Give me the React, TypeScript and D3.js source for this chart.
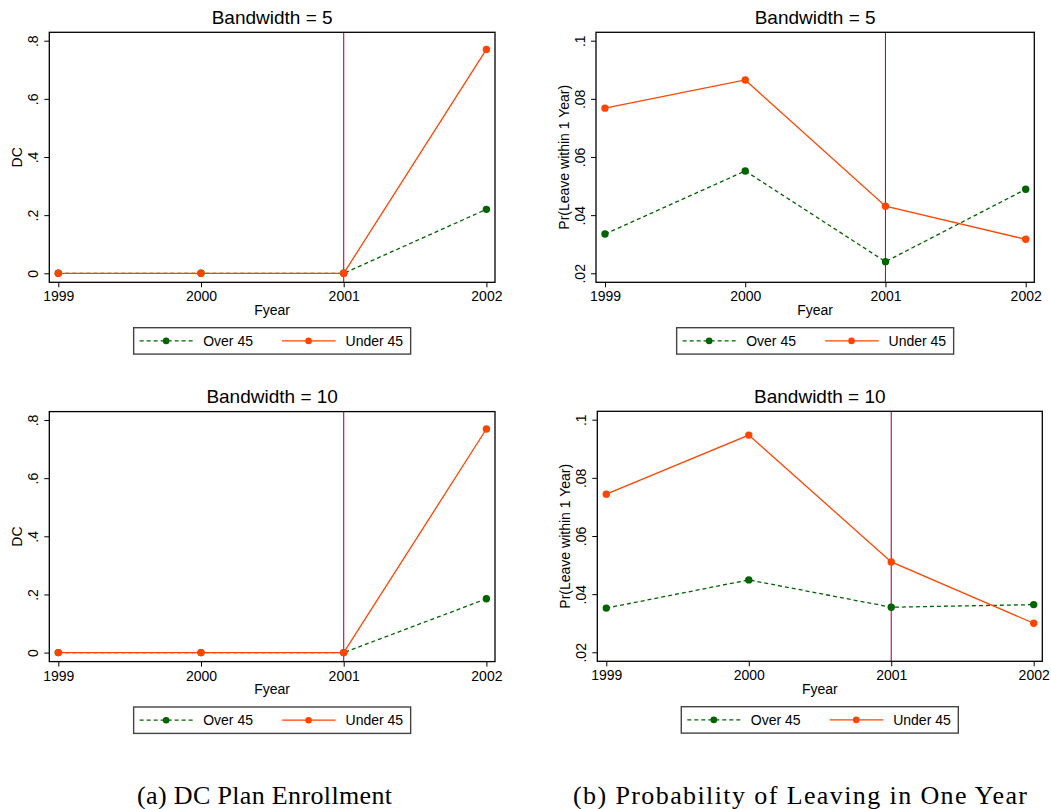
import React, { useEffect, useRef } from 'react';
import * as d3 from 'd3';

// years on the x axis, and the cutoff year marked with a vertical line
const years = [1999, 2000, 2001, 2002];
const cutoffYear = 2001;

// (a) DC plan enrollment
const dcOver5 = [0, 0, 0, 0.22];
const dcUnder5 = [0, 0, 0, 0.77];
const dcOver10 = [0, 0, 0, 0.185];
const dcUnder10 = [0, 0, 0, 0.769];

// (b) probability of leaving within one year
const leaveOver5 = [0.0335, 0.0552, 0.024, 0.0489];
const leaveUnder5 = [0.0768, 0.0865, 0.0431, 0.0317];
const leaveOver10 = [0.0352, 0.0449, 0.0355, 0.0364];
const leaveUnder10 = [0.0744, 0.0947, 0.0511, 0.03];

const dcTicks = [0, 0.2, 0.4, 0.6, 0.8];
const dcTickLabels = ['0', '.2', '.4', '.6', '.8'];
const leaveTicks = [0.02, 0.04, 0.06, 0.08, 0.1];
const leaveTickLabels = ['.02', '.04', '.06', '.08', '.1'];

const seriesNames = ['Over 45', 'Under 45'];

const GREEN = '#006400';
const ORANGE = '#ff4500';
const CUTOFF = '#b0103c';
const FONT = '"Liberation Sans", Arial, Helvetica, sans-serif';

function App() {
  const ref = useRef(null);

  useEffect(() => {
    const svg = d3.select(ref.current);
    svg.selectAll('*').remove();

    const panels = [
      { title: 'Bandwidth = 5', ylab: 'DC', over: dcOver5, under: dcUnder5, ticks: dcTicks, labels: dcTickLabels, x: 49.3, y: 32.3, w: 445.7, h: 250 },
      { title: 'Bandwidth = 10', ylab: 'DC', over: dcOver10, under: dcUnder10, ticks: dcTicks, labels: dcTickLabels, x: 49.3, y: 411.6, w: 445.7, h: 250 },
      { title: 'Bandwidth = 5', ylab: 'Pr(Leave within 1 Year)', over: leaveOver5, under: leaveUnder5, ticks: leaveTicks, labels: leaveTickLabels, x: 596, y: 32.3, w: 438.3, h: 250 },
      { title: 'Bandwidth = 10', ylab: 'Pr(Leave within 1 Year)', over: leaveOver10, under: leaveUnder10, ticks: leaveTicks, labels: leaveTickLabels, x: 597.3, y: 411.3, w: 445, h: 250 },
    ];

    panels.forEach((p) => {
      const g = svg.append('g').attr('transform', `translate(${p.x},${p.y})`);

      const x = d3.scaleLinear()
        .domain([years[0], years[years.length - 1]])
        .range([9, p.w - 8.6]);
      const y = d3.scaleLinear()
        .domain([p.ticks[0], p.ticks[p.ticks.length - 1]])
        .range([p.h - 9, 8.4]);

      // title
      g.append('text')
        .attr('x', p.w / 2)
        .attr('y', -8.3)
        .attr('text-anchor', 'middle')
        .attr('font-family', FONT)
        .attr('font-size', 19)
        .text(p.title);

      // y axis
      const yAxis = g.append('g')
        .call(d3.axisLeft(y).tickValues(p.ticks).tickSize(5).tickSizeOuter(0)
          .tickFormat((d, i) => p.labels[i]));
      yAxis.select('.domain').remove();
      yAxis.selectAll('line').attr('stroke', '#000');
      yAxis.selectAll('text')
        .attr('transform', 'rotate(-90)')
        .attr('x', 0)
        .attr('y', -11)
        .attr('dy', null)
        .attr('text-anchor', 'middle')
        .attr('font-family', FONT)
        .attr('font-size', 14)
        .attr('fill', '#000');

      // x axis
      const xAxis = g.append('g')
        .attr('transform', `translate(0,${p.h})`)
        .call(d3.axisBottom(x).tickValues(years).tickSize(5).tickSizeOuter(0)
          .tickFormat(d3.format('d')));
      xAxis.select('.domain').remove();
      xAxis.selectAll('line').attr('stroke', '#000');
      xAxis.selectAll('text')
        .attr('y', 9)
        .attr('font-family', FONT)
        .attr('font-size', 14)
        .attr('fill', '#000');

      // axis titles
      g.append('text')
        .attr('x', p.w / 2)
        .attr('y', p.h + 32.7)
        .attr('text-anchor', 'middle')
        .attr('font-family', FONT)
        .attr('font-size', 14)
        .text('Fyear');
      g.append('text')
        .attr('transform', `translate(-27,${p.h / 2}) rotate(-90)`)
        .attr('text-anchor', 'middle')
        .attr('font-family', FONT)
        .attr('font-size', 14)
        .text(p.ylab);

      // cutoff line
      g.append('line')
        .attr('x1', x(cutoffYear)).attr('x2', x(cutoffYear))
        .attr('y1', 0).attr('y2', p.h)
        .attr('stroke', CUTOFF)
        .attr('stroke-width', 1.1);

      const line = d3.line().x((d, i) => x(years[i])).y((d) => y(d));

      // over 45 (dashed green), then under 45 on top
      const series = [
        { vals: p.over, color: GREEN, dash: '4,3' },
        { vals: p.under, color: ORANGE, dash: null },
      ];
      series.forEach((s) => {
        g.append('path')
          .datum(s.vals)
          .attr('d', line)
          .attr('fill', 'none')
          .attr('stroke', s.color)
          .attr('stroke-width', 1.3)
          .attr('stroke-dasharray', s.dash);
        g.selectAll(null)
          .data(s.vals)
          .enter()
          .append('circle')
          .attr('cx', (d, i) => x(years[i]))
          .attr('cy', (d) => y(d))
          .attr('r', 3.7)
          .attr('fill', s.color);
      });

      // frame
      g.append('rect')
        .attr('width', p.w)
        .attr('height', p.h)
        .attr('fill', 'none')
        .attr('stroke', '#000')
        .attr('stroke-width', 1.3);

      // legend
      const lw = 277, lh = 26.4;
      const lg = g.append('g').attr('transform', `translate(${p.w / 2 - lw / 2},${p.h + 45.4})`);
      lg.append('rect')
        .attr('width', lw)
        .attr('height', lh)
        .attr('fill', '#fff')
        .attr('stroke', '#444')
        .attr('stroke-width', 1.4);
      const items = [
        { name: seriesNames[0], color: GREEN, dash: '4,3', x0: 6 },
        { name: seriesNames[1], color: ORANGE, dash: null, x0: 148.4 },
      ];
      items.forEach((it) => {
        lg.append('line')
          .attr('x1', it.x0).attr('x2', it.x0 + 53.5)
          .attr('y1', lh / 2).attr('y2', lh / 2)
          .attr('stroke', it.color)
          .attr('stroke-width', 1.3)
          .attr('stroke-dasharray', it.dash);
        lg.append('circle')
          .attr('cx', it.x0 + 26.5)
          .attr('cy', lh / 2)
          .attr('r', 3.3)
          .attr('fill', it.color);
        lg.append('text')
          .attr('x', it.x0 + 63.5)
          .attr('y', 18)
          .attr('font-family', FONT)
          .attr('font-size', 14)
          .text(it.name);
      });
    });

    // sub-figure captions
    const captions = [
      { text: '(a) DC Plan Enrollment', x: 264.5, len: 255 },
      { text: '(b) Probability of Leaving in One Year', x: 800, len: 454 },
    ];
    svg.selectAll('text.caption')
      .data(captions)
      .enter()
      .append('text')
      .attr('class', 'caption')
      .attr('x', (d) => d.x)
      .attr('y', 804)
      .attr('text-anchor', 'middle')
      .attr('font-family', '"Liberation Serif", "Times New Roman", serif')
      .attr('font-size', 26)
      .attr('textLength', (d) => d.len)
      .attr('lengthAdjust', 'spacing')
      .text((d) => d.text);
  }, []);

  return (
    <svg
      ref={ref}
      width={1051}
      height={809}
      style={{ position: 'absolute', left: 0, top: 0, background: '#fff' }}
    />
  );
}

export default App;
